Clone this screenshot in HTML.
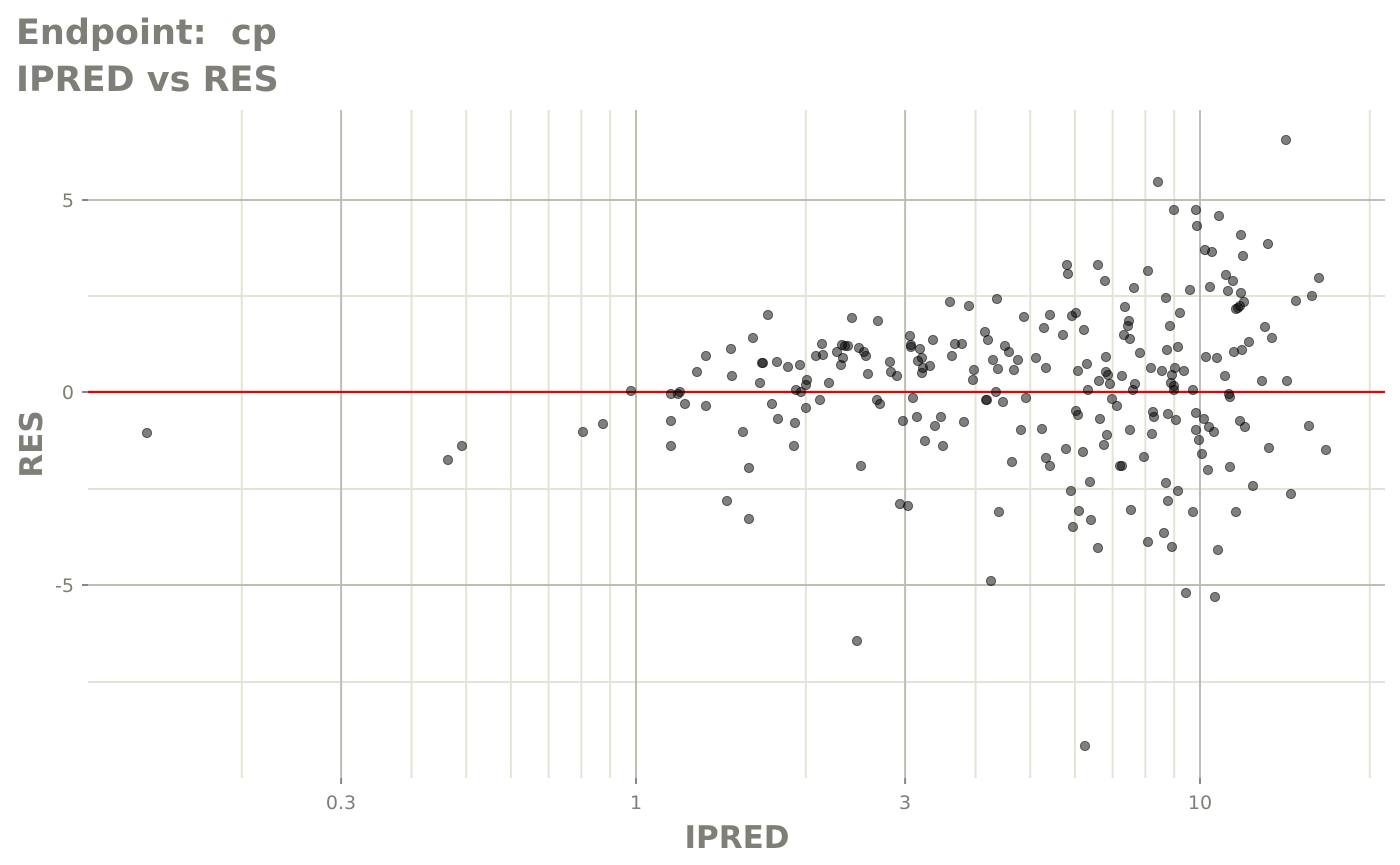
<!DOCTYPE html>
<html><head><meta charset="utf-8"><style>
html,body{margin:0;padding:0;background:#fff;}
svg{display:block;font-family:"DejaVu Sans","Liberation Sans",sans-serif;}
</style></head><body>
<svg id="s" width="1400" height="865" xmlns="http://www.w3.org/2000/svg">
<text x="16" y="44" font-size="35" font-weight="bold" fill="#7f7f77">Endpoint:&#160;&#160;cp</text>
<text x="16" y="91" font-size="35" font-weight="bold" fill="#7f7f77">IPRED vs RES</text>
<g id="grid"></g>
<line x1="88" x2="1385" y1="392" y2="392" stroke="#ee0000" stroke-width="2.2"/>
<g id="pts"></g>
<g font-size="19" fill="#7f7f77">
<text x="74" y="207" text-anchor="end">5</text>
<text x="74" y="399" text-anchor="end">0</text>
<text x="74" y="592" text-anchor="end">-5</text>
<text x="341" y="809" text-anchor="middle">0.3</text>
<text x="636" y="809" text-anchor="middle">1</text>
<text x="905" y="809" text-anchor="middle">3</text>
<text x="1200" y="809" text-anchor="middle">10</text>
</g>
<text x="737" y="848" font-size="31" font-weight="bold" fill="#7f7f77" text-anchor="middle">IPRED</text>
<text transform="translate(42,444) rotate(-90)" font-size="31" font-weight="bold" fill="#7f7f77" text-anchor="middle">RES</text>
</svg>
<script>
var NS="http://www.w3.org/2000/svg";
function el(p,t,a){var e=document.createElementNS(NS,t);for(var k in a)e.setAttribute(k,a[k]);p.appendChild(e);return e;}
var g=document.getElementById('grid');
function X(v){return 636+Math.log10(v)*564;}
var minorX=[0.2,0.4,0.5,0.6,0.7,0.8,0.9,2,4,5,6,7,8,9,20];
minorX.forEach(function(v){var x=X(v);el(g,'line',{x1:x,x2:x,y1:110,y2:778,stroke:'#e4e4d6','stroke-width':2});});
[296,489,682].forEach(function(y){el(g,'line',{x1:88,x2:1385,y1:y,y2:y,stroke:'#e4e4d6','stroke-width':2});});
[0.3,1,3,10].forEach(function(v){var x=X(v);el(g,'line',{x1:x,x2:x,y1:110,y2:778,stroke:'#bebeb2','stroke-width':2});el(g,'line',{x1:x,x2:x,y1:778,y2:784,stroke:'#888','stroke-width':2});});
[200,392,585].forEach(function(y){el(g,'line',{x1:88,x2:1385,y1:y,y2:y,stroke:'#bebeb2','stroke-width':2});el(g,'line',{x1:82,x2:88,y1:y,y2:y,stroke:'#888','stroke-width':2});});
var P=[147,433,448,460,462,446,583,432,603,424,631,391,671,394,671,421,671,446,678,394,680,392,685,404,697,372,706,356,706,406,727,501,731,349,732,376,743,432,749,468,749,519,753,338,760,383,762,363,763,363,768,315,772,404,777,362,778,419,788,367,794,446,795,423,796,390,800,365,801,392,806,385,806,408,807,380,816,356,820,400,822,344,823,355,829,383,837,352,841,365,842,345,843,358,845,346,848,346,852,318,857,641,859,348,861,466,864,352,866,356,868,374,877,400,878,321,880,404,890,362,891,372,897,376,900,504,903,421,908,506,910,336,911,345,911,347,913,398,917,417,918,361,920,349,922,358,923,368,922,373,925,441,930,366,933,340,935,426,941,417,943,446,950,302,952,356,955,344,962,344,964,422,969,306,973,380,974,370,985,332,986,400,987,400,988,340,991,581,993,360,996,392,997,299,998,369,999,512,1003,402,1005,346,1009,352,1012,462,1014,370,1018,360,1021,430,1024,317,1026,398,1036,358,1042,429,1044,328,1046,368,1046,458,1050,315,1050,466,1063,335,1066,449,1067,265,1068,274,1071,491,1072,316,1073,527,1076,313,1076,411,1078,415,1078,371,1079,511,1083,452,1084,330,1085,746,1087,364,1088,390,1090,482,1091,520,1098,265,1098,548,1099,381,1100,419,1104,445,1105,281,1106,357,1106,372,1107,435,1108,375,1110,384,1112,399,1117,406,1120,466,1122,466,1122,376,1124,335,1125,307,1128,326,1129,321,1130,339,1130,430,1131,510,1133,390,1134,288,1135,384,1140,353,1144,457,1148,271,1148,542,1151,368,1152,434,1153,412,1154,417,1158,182,1162,371,1164,533,1166,298,1166,483,1167,350,1168,501,1168,414,1170,326,1171,383,1172,547,1172,375,1174,210,1174,386,1174,390,1175,368,1176,420,1178,491,1178,347,1180,313,1184,371,1186,593,1190,290,1193,512,1193,390,1196,210,1196,430,1196,413,1197,226,1199,440,1202,454,1204,419,1205,250,1206,357,1208,470,1209,427,1210,287,1212,252,1214,432,1215,597,1217,358,1218,550,1219,216,1225,376,1226,275,1228,291,1229,394,1230,397,1230,467,1233,281,1234,352,1236,512,1236,309,1238,308,1240,421,1240,306,1241,235,1242,350,1241,293,1243,256,1244,302,1245,427,1249,342,1253,486,1262,381,1265,327,1268,244,1269,448,1272,338,1286,140,1287,381,1291,494,1296,301,1309,426,1312,296,1319,278,1326,450];
var pg=document.getElementById('pts');
for(var i=0;i<P.length;i+=2)el(pg,'circle',{cx:P[i],cy:P[i+1],r:4.6,fill:'rgba(0,0,0,0.5)',stroke:'rgba(0,0,0,0.55)','stroke-width':1});
</script>
</body></html>
